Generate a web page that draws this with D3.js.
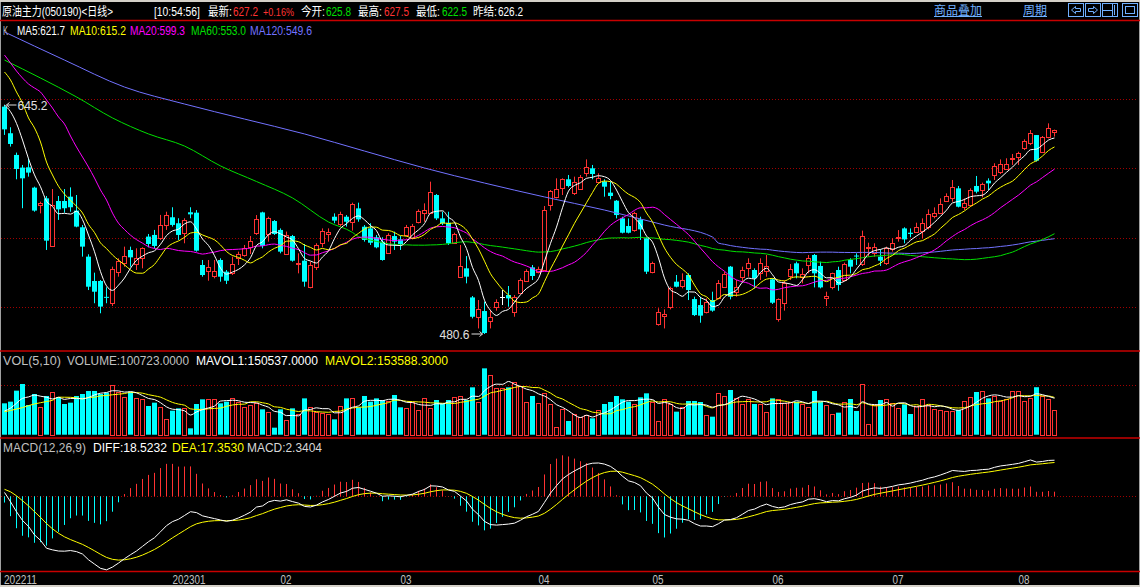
<!DOCTYPE html>
<html><head><meta charset="utf-8">
<script src="https://cdn.jsdelivr.net/npm/d3@7"></script>
<style>html,body{margin:0;padding:0;background:#000;overflow:hidden}svg{display:block}text{font-family:"Liberation Sans","Noto Sans CJK SC",sans-serif;font-size:12px}</style>
</head><body>
<svg id="c" width="1140" height="587"></svg>
<script>
// ---------------- data ----------------
const opens = [644.0,624.9,609.3,600.2,600.4,585.8,573.5,578.1,543.9,576.2,
576.2,579.3,569.3,557.3,536.2,518.7,518.7,507.3,503.1,525.4,
531.4,541.0,530.9,535.0,550.6,551.8,549.4,559.0,564.5,560.2,
553.0,568.1,567.8,530.2,526.1,522.3,533.8,525.4,524.2,535.0,
537.4,543.4,552.9,568.0,552.5,561.8,555.4,538.1,551.0,531.1,
533.3,514.6,528.5,545.8,552.5,564.9,559.7,564.9,561.3,570.9,
557.7,556.5,550.1,547.0,538.6,551.0,548.6,551.8,549.4,561.3,
567.3,567.8,580.5,563.7,560.6,546.2,521.8,527.8,506.9,493.0,
497.1,490.2,499.8,507.4,508.6,496.6,509.8,518.9,528.5,525.4,
526.6,573.3,579.3,585.3,591.8,581.7,584.6,596.6,599.7,590.1,
590.1,582.2,576.4,563.7,558.2,555.3,563.0,549.4,525.4,487.5,
493.8,499.8,518.2,515.1,523.0,505.7,501.4,496.6,505.0,506.2,
514.6,529.0,511.0,521.8,527.8,526.6,524.7,526.1,519.9,491.1,
502.6,522.3,531.4,521.3,530.2,537.4,529.5,506.2,514.6,526.6,
519.4,533.8,537.0,530.9,542.2,539.0,536.2,531.4,541.4,549.4,
556.5,553.4,554.1,554.9,557.3,565.4,567.8,576.4,578.1,585.3,
572.1,573.3,587.0,584.1,590.8,594.9,597.3,599.0,606.1,608.1,
614.0,617.6,623.6,611.6,622.4,625.8];
const highs = [645.2,629.2,611.0,602.1,606.9,586.5,575.7,579.8,584.8,579.8,
584.8,586.0,580.5,559.0,537.9,524.7,519.4,514.2,529.0,535.0,
543.4,543.4,542.2,542.9,552.5,555.4,566.2,568.5,571.7,563.8,
563.8,571.7,569.7,533.8,533.8,533.8,535.0,526.6,536.2,539.8,
544.6,551.0,566.1,568.5,564.9,562.5,556.5,554.2,551.8,538.6,
545.3,532.6,545.8,556.5,556.5,567.3,568.5,566.1,575.0,575.0,
558.9,560.2,551.8,550.1,553.0,554.2,551.0,559.0,559.7,570.2,
574.5,590.1,581.2,568.5,568.5,553.4,544.6,536.6,507.9,505.0,
503.8,497.8,505.5,512.2,515.1,508.6,520.6,527.1,530.2,529.0,
572.6,584.1,592.5,592.5,594.9,593.7,594.9,606.1,602.1,596.1,
591.8,590.1,576.9,564.9,563.7,568.5,564.9,550.1,532.6,499.1,
498.3,514.6,523.0,524.2,524.2,507.4,507.4,506.2,511.0,519.4,
525.4,529.5,519.4,529.0,535.0,527.8,535.0,537.4,520.6,506.2,
518.9,530.9,532.6,527.8,537.4,538.1,532.6,511.0,524.7,529.0,
531.9,535.0,538.6,554.9,546.2,545.8,541.4,543.4,549.4,555.3,
557.3,556.5,560.6,563.7,570.2,571.6,578.1,581.7,591.3,587.0,
578.1,585.3,594.2,589.4,592.5,603.3,606.1,606.9,610.0,611.6,
620.5,627.2,623.6,622.9,632.0,627.5];
const lows = [623.7,615.3,591.8,571.0,593.7,568.5,567.3,541.0,543.4,562.6,
567.8,568.5,557.3,536.2,512.2,502.7,495.5,502.7,500.7,521.8,
529.0,529.0,526.6,527.8,542.9,542.2,548.2,555.4,557.8,548.2,
545.8,563.8,539.8,521.8,518.9,520.6,518.2,516.5,523.0,530.2,
536.2,538.1,551.8,542.2,547.0,551.8,538.6,537.4,532.6,524.2,
514.6,513.4,526.6,542.9,547.0,560.2,557.8,557.8,554.9,561.3,
547.0,544.6,542.2,533.3,538.1,541.0,541.0,550.6,548.6,560.1,
561.3,567.3,562.5,558.9,544.6,545.3,521.3,517.0,491.8,484.6,
480.6,484.6,497.4,501.4,500.2,493.0,509.3,518.2,519.4,524.2,
526.1,569.3,578.1,580.5,586.0,580.5,584.1,593.7,591.8,588.9,
579.3,577.4,563.7,552.9,552.9,554.1,548.2,523.7,524.2,486.6,
484.6,498.3,514.1,513.4,505.0,493.5,488.7,495.4,496.6,505.5,
514.1,505.5,507.4,518.2,521.8,513.4,519.4,521.8,502.2,489.5,
497.4,519.4,520.6,517.0,524.2,514.1,513.4,500.7,512.7,511.7,
518.9,524.2,530.2,529.5,536.2,536.2,529.5,530.2,539.8,547.0,
545.8,550.1,553.4,549.4,555.8,563.7,567.3,575.7,575.7,571.6,
569.7,572.1,581.7,578.8,584.1,591.3,595.6,598.5,602.1,602.1,
612.8,616.4,604.5,610.9,621.2,622.5];
const closes = [627.7,617.2,599.2,592.5,596.6,569.3,574.5,547.7,573.3,570.2,
571.0,571.7,557.8,543.4,514.6,511.0,500.3,506.8,527.1,533.3,
536.7,535.7,535.0,542.2,545.3,543.9,559.0,566.2,559.0,551.8,
562.6,566.6,540.5,523.0,528.5,525.9,521.8,518.9,530.7,537.9,
542.2,547.4,563.0,543.9,563.7,552.5,539.8,551.8,533.3,531.8,
518.2,530.2,544.6,554.9,554.2,562.1,566.9,561.3,574.0,563.0,
548.2,546.2,542.9,533.8,551.8,547.0,545.3,557.3,558.2,569.3,
569.7,582.9,563.7,560.1,545.8,552.5,529.5,521.8,493.0,498.6,
481.3,493.0,503.8,507.4,506.2,507.4,519.4,526.1,522.3,527.3,
569.7,583.4,584.6,591.8,587.0,590.1,593.2,600.4,595.6,592.5,
586.5,579.8,566.1,553.4,553.4,567.3,555.8,525.4,531.4,496.2,
494.9,513.4,514.6,519.4,512.2,494.2,493.8,503.8,497.4,517.5,
523.7,507.4,514.6,526.6,531.4,520.6,531.4,529.5,503.1,505.5,
517.5,527.1,524.2,523.7,535.0,524.2,514.1,507.9,524.2,515.8,
530.9,529.0,536.4,551.0,543.4,542.9,533.3,542.2,545.8,550.6,
548.6,552.5,557.7,560.1,566.9,567.3,574.0,579.8,586.0,572.1,
574.5,584.1,582.9,588.4,588.9,601.3,602.8,602.8,606.9,611.0,
619.6,624.8,605.2,621.9,628.4,627.2];
const volumes = [129500,136400,181800,209300,122600,168000,113000,159800,174900,154300,
126700,132200,159800,168000,180400,180400,168000,173500,205200,177600,
154300,177600,150000,147200,118500,132200,113000,63400,99200,108800,
108800,26300,126700,146000,146000,146000,129500,136400,152700,136400,
115700,122600,129500,104700,95100,29000,104700,60700,108800,85400,
150000,115700,95100,91000,85400,63400,118500,150000,150000,113000,
159800,136400,150000,143100,140300,163900,113000,108800,136400,102000,
150000,108800,143200,129500,143200,154300,159800,143200,195500,136400,
273900,246400,191400,191400,195500,216200,201000,136400,159800,129500,
170800,126700,33200,104700,56600,85400,74400,81300,67600,102000,
126700,135000,159800,146000,136400,126700,154300,170800,136400,56600,
146000,125300,95100,115700,139100,139100,135000,81300,74400,170800,
159800,184500,152700,126700,146000,126700,126700,93700,150100,146000,
132200,136400,136400,126700,113000,180400,136400,122600,85400,91000,
135000,147400,97900,209300,44200,122600,143200,146000,132200,111600,
125300,85400,118500,146000,122600,104700,102000,97900,97900,102000,
139100,154300,176300,180400,150100,161100,139100,146000,180000,180400,
139100,150100,196000,160000,146000,100723];

const ma5Head = [645.2, 640.4, 632.0, 620.0];
const ma10Head = [668.9, 663.2, 654.5, 646.6, 635.9, 628.7, 618.6, 604.2, 594.9];
const ma20Head = [681.1, 675.4, 669.6, 664.6, 660.3, 657.4, 654.5, 648.8, 643.0, 636.6,
  631.5, 622.9, 615.0, 607.8, 600.6, 592.7, 584.1, 576.9, 567.5];
const ma60HeadIdx = [0, 6, 12, 18, 24, 30, 36, 42, 48, 54, 58];
const ma60Head = [677.5, 664.6, 651.0, 635.9, 624.4, 615.7, 601.4, 590.2, 578.4, 561.1, 553.6];
const ma120HeadIdx = [0, 10, 20, 30, 40, 50, 60, 70, 80, 90, 100, 110, 118];
const ma120Head = [697.7, 677.5, 658.1, 645.9, 635.1, 624.4, 612.1, 599.9, 589.1, 579.1, 569.7, 558.9, 550.3];
const mavol1Head = [98000, 110000, 130000, 150000];
const mavol2Head = [95000, 100000, 106000, 112000, 120000, 127000, 132000, 137000, 142000];
const macdSeed = [684, 677, 4]; // EMA12, EMA26, DEA before the first bar

// texts
const titleText = "原油主力(050190)<日线>";
const clockText = "[10:54:56]";
const quoteLabels = ["最新:", "今开:", "最高:", "最低:", "昨结:"];
const quoteValues = ["627.2", "625.8", "627.5", "622.5", "626.2"];
const changeText = "+0.16%";
const maLabels = ["MA5:621.7", "MA10:615.2", "MA20:599.3", "MA60:553.0", "MA120:549.6"];
const volLabels = ["VOL(5,10)", "VOLUME:100723.0000", "MAVOL1:150537.0000", "MAVOL2:153588.3000"];
const macdLabels = ["MACD(12,26,9)", "DIFF:18.5232", "DEA:17.3530", "MACD:2.3404"];
const monthIdx = [0, 29, 47, 67, 90, 109, 129, 149, 170];
const monthLabels = ["202211", "202301", "02", "03", "04", "05", "06", "07", "08"];

// ---------------- drawing ----------------
const n = closes.length;
const RED = "#ff3232", CYAN = "#00ffff", FRAME = "#c80000", GRID = "#a00000";
const svg = d3.select("#c");
svg.append("rect").attr("width", 1140).attr("height", 587).attr("fill", "#000");
svg.append("rect").attr("width", 1140).attr("height", 2).attr("fill", "#d4d0c8");
svg.append("rect").attr("y", 585).attr("width", 1140).attr("height", 2).attr("fill", "#d4d0c8");
svg.append("line").attr("x1", 0.5).attr("x2", 0.5).attr("y1", 2).attr("y2", 585).attr("stroke", "#a0a0a0");
svg.append("line").attr("x1", 1139.5).attr("x2", 1139.5).attr("y1", 2).attr("y2", 585).attr("stroke", "#a0a0a0");

const x = d3.scaleLinear().domain([0, n - 1]).range([4.5, 4.5 + 6 * (n - 1)]);
const yP = d3.scaleLinear().domain([480.6, 645.2]).range([334, 105]);
const yV = d3.scaleLinear().domain([0, 100000]).range([434.7, 434.7 - 100000 / 4128]);
const yM = d3.scaleLinear().domain([0, 18.5232]).range([496.3, 460.3]);

// frame lines
[20.5, 351, 438, 571.5].forEach(y => svg.append("line").attr("x1", 0).attr("x2", 1140).attr("y1", y).attr("y2", y).attr("stroke", FRAME).attr("stroke-width", 1.3));
// dotted grid
[99.5, 168.5, 238.5, 307.5, 385.5, 496.5].forEach(y => svg.append("line").attr("x1", 1).attr("x2", 1138).attr("y1", y).attr("y2", y)
  .attr("stroke", GRID).attr("stroke-dasharray", "1,2"));

function txt(xp, yp, s, color, w, fs) {
  const t = svg.append("text").attr("x", xp).attr("y", yp).attr("fill", color).text(s);
  if (fs) t.style("font-size", fs + "px");
  if (w) t.attr("textLength", w).attr("lengthAdjust", "spacingAndGlyphs");
  return t;
}

// header
txt(2, 16, titleText, "#ffffff", 111, 12.5);
txt(154, 16, clockText, "#ffffff", 46);
const qx = [208, 301, 358, 416, 473], qvx = [233, 326, 384, 442, 498];
const qcol = [RED, "#00e000", RED, "#00e000", "#ffffff"];
quoteLabels.forEach((s, k) => { txt(qx[k], 16, s, "#ffffff", 24, 12); txt(qvx[k], 16, quoteValues[k], qcol[k], 25); });
txt(263, 16, changeText, RED, 31, 10.5);
const LB = "#70b0ff";
txt(934, 15, "商品叠加", LB, 48); svg.append("line").attr("x1", 934).attr("x2", 982).attr("y1", 16.5).attr("y2", 16.5).attr("stroke", LB);
txt(1023, 15, "周期", LB, 24); svg.append("line").attr("x1", 1023).attr("x2", 1047).attr("y1", 16.5).attr("y2", 16.5).attr("stroke", LB);
const icons = svg.append("g").attr("stroke", LB).attr("fill", "none");
[1068, 1085, 1102, 1122].forEach(x0 => icons.append("rect").attr("x", x0 + 0.5).attr("y", 3.5).attr("width", 15).attr("height", 13));
icons.append("path").attr("d", "M1071.5,10 L1075.5,6.5 L1075.5,8.5 L1080.5,8.5 L1080.5,11.5 L1075.5,11.5 L1075.5,13.5 Z");
icons.append("path").attr("d", "M1097.5,10 L1093.5,6.5 L1093.5,8.5 L1088.5,8.5 L1088.5,11.5 L1093.5,11.5 L1093.5,13.5 Z");
icons.append("path").attr("d", "M1103,10.5 H1112 M1112.5,4 V16 M1114.5,5 V15");
icons.append("rect").attr("x", 1125.5).attr("y", 6.5).attr("width", 9).attr("height", 7);

// MA legend row
txt(3, 34.5, "K", "#c0c0c0", 5);
const maColors = ["#ffffff", "#ffff00", "#ff00ff", "#00e000", "#7272ff"];
const maX = [17, 70, 130, 191, 250], maW = [48, 56, 55, 55, 62];
maLabels.forEach((s, k) => txt(maX[k], 34.5, s, maColors[k], maW[k]));

// volume & macd titles
const vX = [3, 67, 196, 325], vW = [58, 122, 122, 123], vC = ["#c0c0c0", "#c0c0c0", "#ffffff", "#ffff00"];
volLabels.forEach((s, k) => txt(vX[k], 365, s, vC[k], vW[k]));
const mX = [3, 93, 172, 247], mW = [83, 74, 72, 75], mC = ["#c0c0c0", "#ffffff", "#ffff00", "#d8d8d8"];
macdLabels.forEach((s, k) => txt(mX[k], 451.5, s, mC[k], mW[k]));

// bars data
const bars = closes.map((c, i) => ({ i, o: opens[i], h: highs[i], l: lows[i], c, v: volumes[i] }));
const dir = d => d.c > d.o ? "up" : (d.c < d.o ? "down" : "flat");

// main panel clip
svg.append("clipPath").attr("id", "mainclip").append("rect").attr("x", 1).attr("y", 21).attr("width", 1138).attr("height", 329);
const main = svg.append("g").attr("clip-path", "url(#mainclip)");

const rnd = v => Math.round(v) + 0.5;
const candles = main.append("g").selectAll("g").data(bars).join("g");
candles.each(function (d) {
  const g = d3.select(this), cx = x(d.i);
  const t = dir(d);
  if (t === "down") {
    g.append("line").attr("x1", cx).attr("x2", cx).attr("y1", yP(d.h)).attr("y2", yP(d.l)).attr("stroke", CYAN);
    const y0 = yP(d.o), y1 = yP(d.c);
    g.append("rect").attr("x", cx - 2.5).attr("y", y0).attr("width", 5).attr("height", Math.max(1, y1 - y0)).attr("fill", CYAN);
  } else if (t === "up") {
    const top = rnd(yP(d.c)), bot = Math.max(rnd(yP(d.o)), top + 1);
    g.append("line").attr("x1", cx).attr("x2", cx).attr("y1", yP(d.h)).attr("y2", top).attr("stroke", RED);
    g.append("line").attr("x1", cx).attr("x2", cx).attr("y1", bot).attr("y2", yP(d.l)).attr("stroke", RED);
    g.append("rect").attr("x", cx - 2).attr("y", top).attr("width", 4).attr("height", bot - top).attr("fill", "#000").attr("stroke", RED);
  } else {
    g.append("line").attr("x1", cx).attr("x2", cx).attr("y1", yP(d.h)).attr("y2", yP(d.l)).attr("stroke", "#ffffff");
    g.append("line").attr("x1", cx - 2.5).attr("x2", cx + 2.5).attr("y1", rnd(yP(d.c))).attr("y2", rnd(yP(d.c))).attr("stroke", "#ffffff");
  }
});

// moving averages
function smaAt(arr, N, i) { let s = 0; for (let k = i - N + 1; k <= i; k++) s += arr[k]; return s / N; }
function maPoints(arr, N, headIdx, headVals) {
  const pts = headIdx.map((i, k) => ({ i, v: headVals[k] }));
  for (let i = N - 1; i < n; i++) pts.push({ i, v: smaAt(arr, N, i) });
  return pts;
}
const seq = k => d3.range(k);
const maSets = [
  maPoints(closes, 5, seq(4), ma5Head),
  maPoints(closes, 10, seq(9), ma10Head),
  maPoints(closes, 20, seq(19), ma20Head),
  maPoints(closes, 60, ma60HeadIdx, ma60Head),
  maPoints(closes, 120, ma120HeadIdx, ma120Head)
];
const maLine = d3.line().x(d => x(d.i)).y(d => yP(d.v)).curve(d3.curveMonotoneX);
[4, 3, 2, 1, 0].forEach(k => main.append("path").attr("d", maLine(maSets[k])).attr("fill", "none").attr("stroke", maColors[k]).attr("stroke-width", 1));

// extreme labels
const iMax = d3.maxIndex(highs), iMin = d3.minIndex(lows);
const hx = x(iMax), hy = yP(highs[iMax]);
main.append("path").attr("d", `M${hx + 2},${hy} L${hx + 12},${hy} M${hx + 2},${hy} l3,-2.5 M${hx + 2},${hy} l3,2.5`).attr("stroke", "#e0e0e0").attr("fill", "none");
txt(hx + 13, hy + 4.5, highs[iMax].toFixed(1), "#e0e0e0", 30);
const lx = x(iMin), ly = yP(lows[iMin]);
main.append("path").attr("d", `M${lx - 13},${ly} L${lx - 2},${ly} l-3,-2.5 M${lx - 2},${ly} l-3,2.5`).attr("stroke", "#e0e0e0").attr("fill", "none");
txt(lx - 45, ly + 4.5, lows[iMin].toFixed(1), "#e0e0e0", 30);

// volume bars
const vol = svg.append("g");
vol.selectAll("rect").data(bars).join("rect")
  .each(function (d) {
    const r = d3.select(this), cx = x(d.i), top = yV(d.v);
    if (dir(d) === "down") r.attr("x", cx - 2.5).attr("y", top).attr("width", 5).attr("height", yV(0) - top).attr("fill", CYAN);
    else r.attr("x", cx - 2).attr("y", rnd(top)).attr("width", 4).attr("height", Math.max(1, Math.round(yV(0)) - Math.round(top))).attr("fill", "#000").attr("stroke", RED);
  });
const vLine = d3.line().x(d => x(d.i)).y(d => yV(d.v)).curve(d3.curveMonotoneX);
vol.append("path").attr("d", vLine(maPoints(volumes, 10, seq(9), mavol2Head))).attr("fill", "none").attr("stroke", "#ffff00");
vol.append("path").attr("d", vLine(maPoints(volumes, 5, seq(4), mavol1Head))).attr("fill", "none").attr("stroke", "#ffffff");

// MACD
let e12 = macdSeed[0], e26 = macdSeed[1], dea = macdSeed[2];
const macdData = closes.map((c, i) => {
  e12 = (2 * c + 11 * e12) / 13; e26 = (2 * c + 25 * e26) / 27;
  const diff = e12 - e26; dea = (2 * diff + 8 * dea) / 10;
  return { i, diff, dea, macd: 2 * (diff - dea) };
});
const mg = svg.append("g");
mg.selectAll("line").data(macdData).join("line")
  .attr("x1", d => x(d.i)).attr("x2", d => x(d.i)).attr("y1", yM(0)).attr("y2", d => yM(d.macd))
  .attr("stroke", d => d.macd >= 0 ? RED : CYAN);
mg.append("path").attr("d", d3.line().x(d => x(d.i)).y(d => yM(d.dea))(macdData)).attr("fill", "none").attr("stroke", "#ffff00");
mg.append("path").attr("d", d3.line().x(d => x(d.i)).y(d => yM(d.diff))(macdData)).attr("fill", "none").attr("stroke", "#ffffff");

// time axis
const axis = d3.axisBottom(x).tickValues(monthIdx).tickFormat((d, k) => monthLabels[k]).tickSize(0).tickPadding(3);
const ax = svg.append("g").attr("transform", "translate(0,572)").call(axis);
ax.select(".domain").remove();
ax.selectAll("text").attr("fill", "#c0c0c0").attr("text-anchor", "start")
  .attr("font-family", null).attr("font-size", null)
  .attr("x", (d, k) => k === 0 ? -1 : -6.5)
  .attr("textLength", (d, k) => monthLabels[k].length * 5.5).attr("lengthAdjust", "spacingAndGlyphs");
</script>
</body></html>
